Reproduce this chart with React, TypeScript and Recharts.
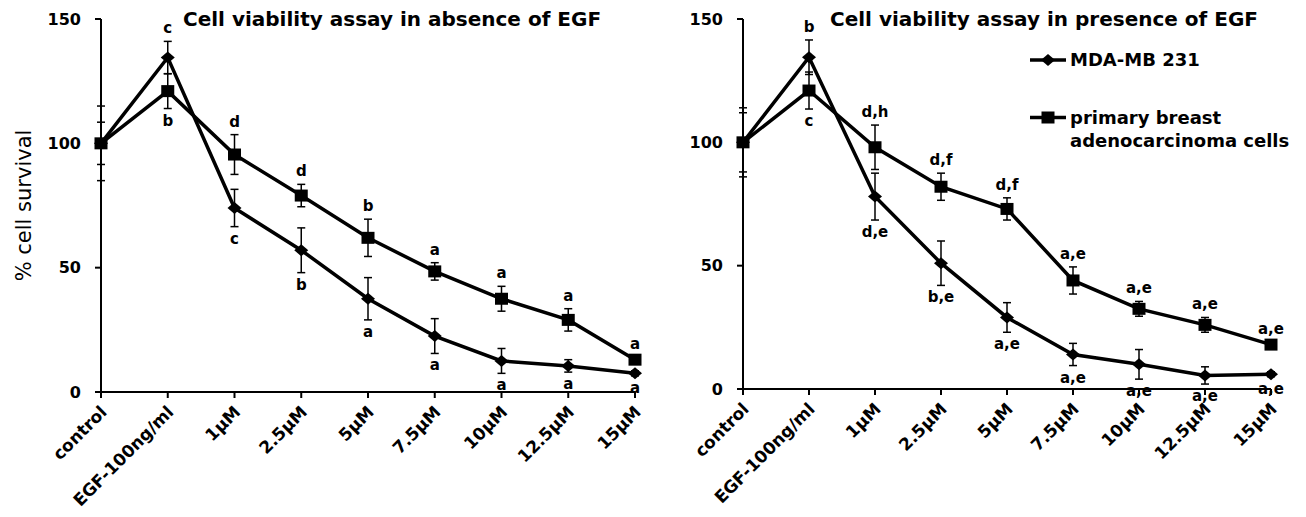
import React from 'react';
import { LineChart, Line, XAxis, YAxis, ErrorBar, LabelList, Legend } from 'recharts';

const categories = ['control', 'EGF-100ng/ml', '1µM', '2.5µM', '5µM', '7.5µM', '10µM', '12.5µM', '15µM'];
const yTicks = [0, 50, 100, 150];
const seriesNames = ['MDA-MB 231', 'primary breast adenocarcinoma cells'];

// absence of EGF
const mdaAbsent = [100, 134.5, 74, 57, 37.5, 22.5, 12.5, 10.5, 7.5];
const mdaAbsentErr = [15, 6.5, 7.5, 9, 8.5, 7, 5, 2.5, 1];
const mdaAbsentLabels = ['', 'c', 'c', 'b', 'a', 'a', 'a', 'a', 'a'];
const primAbsent = [100, 121, 95.5, 79, 62, 48.5, 37.5, 29, 13];
const primAbsentErr = [8.5, 7, 8, 4.5, 7.5, 3.5, 5, 4.5, 1];
const primAbsentLabels = ['', 'b', 'd', 'd', 'b', 'a', 'a', 'a', 'a'];

// presence of EGF
const mdaPresent = [100, 134.5, 78, 51, 29, 14, 10, 5.5, 6];
const mdaPresentErr = [14, 7, 9.5, 9, 6, 4.5, 6, 3.5, 1];
const mdaPresentLabels = ['', 'b', 'd,e', 'b,e', 'a,e', 'a,e', 'a,e', 'a,e', 'a,e'];
const primPresent = [100, 121, 98, 82, 73, 44, 32.5, 26, 18];
const primPresentErr = [12, 7.5, 9, 5.5, 4.5, 5.5, 3, 3, 1];
const primPresentLabels = ['', 'c', 'd,h', 'd,f', 'd,f', 'a,e', 'a,e', 'a,e', 'a,e'];

const FONT = '"DejaVu Sans", sans-serif';

const buildRows = (mda: number[], mdaErr: number[], mdaLab: string[], prim: number[], primErr: number[], primLab: string[]) =>
  categories.map((cat, i) => ({
    cat,
    mda: mda[i],
    mdaErr: mdaErr[i],
    mdaLab: mdaLab[i],
    prim: prim[i],
    primErr: primErr[i],
    primLab: primLab[i],
  }));

const absentRows = buildRows(mdaAbsent, mdaAbsentErr, mdaAbsentLabels, primAbsent, primAbsentErr, primAbsentLabels);
const presentRows = buildRows(mdaPresent, mdaPresentErr, mdaPresentLabels, primPresent, primPresentErr, primPresentLabels);

const diamondDot = (props: any) => {
  const { cx, cy, index } = props;
  if (cx == null || cy == null) return <g key={`dn${index}`} />;
  return <path key={`d${index}`} d={`M${cx},${cy - 6}L${cx + 7},${cy}L${cx},${cy + 6}L${cx - 7},${cy}Z`} fill="#000" />;
};

const squareDot = (props: any) => {
  const { cx, cy, index } = props;
  if (cx == null || cy == null) return <g key={`sn${index}`} />;
  return <rect key={`s${index}`} x={cx - 6.5} y={cy - 6} width={13} height={12} fill="#000" />;
};

// letters above / below the error bars
const makeLetter = (errs: number[], pxPerUnit: number, isAbove: (i: number) => boolean) => (props: any) => {
  const { value, index } = props;
  if (!value) return null;
  const x = props.x ?? props.viewBox?.x;
  const y = props.y ?? props.viewBox?.y;
  const e = errs[index] * pxPerUnit;
  const ty = isAbove(index) ? y - e - 8 : y + e + 17;
  return (
    <text key={`l${index}`} x={x} y={ty} textAnchor="middle" fontFamily={FONT} fontWeight="bold" fontSize={15} fill="#000">
      {value}
    </text>
  );
};

const renderTick = (props: any) => {
  const { x, y, payload } = props;
  return (
    <g transform={`translate(${x + 7},${y + 13}) rotate(-45)`}>
      <text x={0} y={0} textAnchor="end" fontFamily={FONT} fontWeight="bold" fontSize={17} fill="#000">
        {payload.value}
      </text>
    </g>
  );
};

const renderYLabel = (props: any) => {
  const vb = props.viewBox || {};
  const cx = 24;
  const cy = (vb.y ?? 19) + (vb.height ?? 373) / 2;
  return (
    <text x={cx} y={cy} transform={`rotate(-90, ${cx}, ${cy})`} textAnchor="middle" dominantBaseline="central" fontFamily={FONT} fontSize={21} fill="#000">
      % cell survival
    </text>
  );
};

const LegendBox = () => (
  <div style={{ fontFamily: FONT, fontWeight: 'bold', fontSize: 18, lineHeight: '23px', color: '#000' }}>
    <div style={{ display: 'flex', alignItems: 'center' }}>
      <svg width={38} height={16} style={{ display: 'block' }}>
        <line x1={0} y1={8} x2={36} y2={8} stroke="#000" strokeWidth={3.5} />
        <path d="M18,2L25,8L18,14L11,8Z" fill="#000" />
      </svg>
      <span style={{ marginLeft: 2 }}>{seriesNames[0]}</span>
    </div>
    <div style={{ display: 'flex', alignItems: 'flex-start', marginTop: 35 }}>
      <svg width={38} height={23} style={{ display: 'block' }}>
        <line x1={0} y1={11.5} x2={36} y2={11.5} stroke="#000" strokeWidth={3.5} />
        <rect x={11.5} y={5.5} width={13} height={12} fill="#000" />
      </svg>
      <span style={{ marginLeft: 2, width: 228 }}>{seriesNames[1]}</span>
    </div>
  </div>
);

type PanelProps = {
  rows: any[];
  width: number;
  yAxisWidth: number;
  marginRight: number;
  title: string;
  titleLeft: number;
  showYLabel?: boolean;
  showLegend?: boolean;
};

const PLOT_TOP = 19;

const Panel = ({ rows, width, yAxisWidth, marginRight, title, titleLeft, showYLabel, showLegend }: PanelProps) => {
  const height = 517;
  const xAxisHeight = showYLabel ? 120 : 123;
  const plotH = height - PLOT_TOP - 5 - xAxisHeight;
  const k = plotH / 150;
  const axisStroke = { stroke: '#000', strokeWidth: 2 };
  return (
    <div style={{ position: 'relative', width, height }}>
      <LineChart width={width} height={height} data={rows} margin={{ top: PLOT_TOP, right: marginRight, bottom: 5, left: 0 }}>
        <XAxis dataKey="cat" interval={0} height={xAxisHeight} axisLine={axisStroke} tickLine={axisStroke} tickSize={6} tick={renderTick} />
        <YAxis
          domain={[0, 150]}
          ticks={yTicks}
          interval={0}
          width={yAxisWidth}
          axisLine={axisStroke}
          tickLine={axisStroke}
          tickSize={6}
          tickMargin={14}
          tick={{ fill: '#000', fontSize: 16, fontWeight: 'bold', fontFamily: FONT }}
          label={showYLabel ? renderYLabel : undefined}
        />
        <Line dataKey="prim" stroke="#000" strokeWidth={3.5} dot={squareDot} activeDot={false} isAnimationActive={false}>
          <ErrorBar dataKey="primErr" width={4} stroke="#000" strokeWidth={1.5} direction="y" />
          <LabelList dataKey="primLab" content={makeLetter(rows.map((r) => r.primErr), k, (i) => i !== 1)} />
        </Line>
        <Line dataKey="mda" stroke="#000" strokeWidth={3.5} dot={diamondDot} activeDot={false} isAnimationActive={false}>
          <ErrorBar dataKey="mdaErr" width={4} stroke="#000" strokeWidth={1.5} direction="y" />
          <LabelList dataKey="mdaLab" content={makeLetter(rows.map((r) => r.mdaErr), k, (i) => i === 1)} />
        </Line>
        {showLegend && (
          <Legend
            layout="vertical"
            align="center"
            verticalAlign="middle"
            content={() => <LegendBox />}
            wrapperStyle={{ left: 380, top: 48, width: 270, height: 110 }}
          />
        )}
      </LineChart>
      <div
        style={{
          position: 'absolute',
          left: titleLeft,
          top: 7,
          fontFamily: FONT,
          fontWeight: 'bold',
          fontSize: 20,
          lineHeight: '24px',
          whiteSpace: 'nowrap',
          color: '#000',
        }}
      >
        {title}
      </div>
    </div>
  );
};

export default function App() {
  return (
    <div style={{ position: 'absolute', left: 0, top: 0, width: 1306, height: 517, display: 'flex', background: '#fff' }}>
      <Panel
        rows={absentRows}
        width={650}
        yAxisWidth={101}
        marginRight={15}
        title="Cell viability assay in absence of EGF"
        titleLeft={183}
        showYLabel
      />
      <Panel
        rows={presentRows}
        width={656}
        yAxisWidth={93}
        marginRight={35}
        title="Cell viability assay in presence of EGF"
        titleLeft={180}
        showLegend
      />
    </div>
  );
}
